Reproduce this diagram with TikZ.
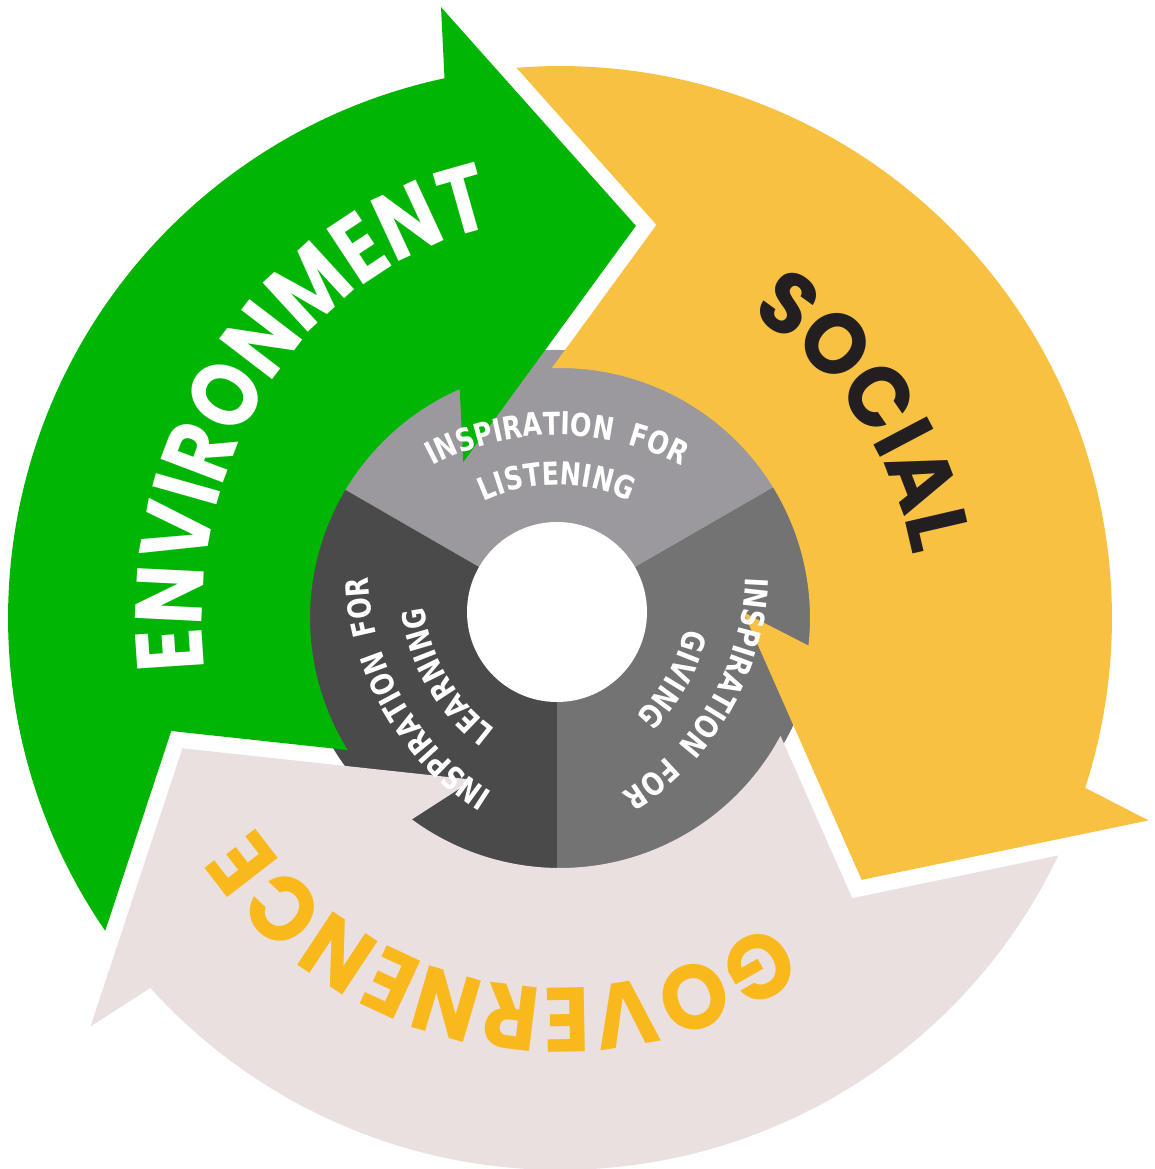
\documentclass[tikz,border=0pt]{standalone}
\usepackage{fontspec}
\usetikzlibrary{decorations.text}
\newfontfamily\envf{Poppins}[FakeStretch=0.835]
\newfontfamily\govf{Poppins}[FakeStretch=0.94]
\newfontfamily\socf{Poppins}[FakeStretch=0.95]
\newfontfamily\innerf{DejaVu Sans}[WordSpace=1.8,FakeStretch=0.8]
\definecolor{envgreen}{RGB}{0,181,4}
\definecolor{socyellow}{RGB}{249,193,66}
\definecolor{govpink}{RGB}{234,224,224}
\definecolor{govtext}{RGB}{249,184,28}
\definecolor{socdark}{RGB}{35,31,32}
\definecolor{ringlight}{RGB}{155,153,157}
\definecolor{ringmid}{RGB}{115,115,115}
\definecolor{ringdark}{RGB}{74,74,74}
\tikzset{
  esgarrow/.pic={\path[pic actions] (211.72:5.52) arc[start angle=211.72,end angle=99.28,radius=5.52]
      -- (-0.89,6.16) -- (0.95,3.88) -- (-0.89,1.605) -- (110.86:2.50)
      arc[start angle=110.86,end angle=209.09,radius=2.50] -- (193.41:4.0485) -- cycle;},
}
\newcommand\sectorlabel[2]{%
  \begin{scope}[rotate=#1]
    \begin{scope}[yshift=-0.89cm]
      \path[decorate,decoration={text along path,text align=center,text color=white,
        text={|\innerf\bfseries\fontsize{9}{10}\selectfont|INSPIRATION FOR}}]
        (130:2.66) arc[start angle=130,end angle=50,radius=2.66];
    \end{scope}
    \begin{scope}[yshift=-0.45cm]
      \path[decorate,decoration={text along path,text align=center,text color=white,
        text={|\innerf\bfseries\fontsize{9}{10}\selectfont|#2}}]
        (140:1.72) arc[start angle=140,end angle=40,radius=1.72];
    \end{scope}
  \end{scope}}
\begin{document}
\begin{tikzpicture}
\useasboundingbox (0,0) rectangle (11.55,-11.69);
\fill[white] (0,0) rectangle (11.55,-11.69);
% inner ring
\begin{scope}[shift={(5.57,-6.12)}]
  \fill[ringlight] (0,0) -- (30:2.62) arc[start angle=30,end angle=150,radius=2.62] -- cycle;
  \fill[ringdark] (0,0) -- (150:2.62) arc[start angle=150,end angle=270,radius=2.62] -- cycle;
  \fill[ringmid] (0,0) -- (270:2.62) arc[start angle=270,end angle=390,radius=2.62] -- cycle;
  \fill[white] (0,0) circle (0.90);
\end{scope}
% big arrows
\begin{scope}[shift={(5.60,-6.18)}]
  \pic[fill=envgreen, rotate=2.8] {esgarrow};
  \pic[fill=socyellow, rotate=-117.2] {esgarrow};
  \pic[fill=govpink, rotate=122.8] {esgarrow};
  \path[decorate,decoration={text along path,text align=center,text color=white,
     text={|\envf\bfseries\fontsize{27}{30}\selectfont|ENVIRONMENT}}]
     (212.75:3.58 and 3.98) arc[start angle=212.75,end angle=72.75,x radius=3.58,y radius=3.98];
  \path[decorate,decoration={text along path,text align=center,text color=socdark,
     text={|\socf\bfseries\fontsize{24.5}{30}\selectfont|SOCIAL}}]
     (100:3.58) arc[start angle=100,end angle=-32,radius=3.58];
  \path[decorate,decoration={text along path,text align=center,text color=govtext,
     text={|\govf\bfseries\fontsize{26}{30}\selectfont|GOVERNENCE}}]
     (330.5:3.70) arc[start angle=330.5,end angle=188.5,radius=3.70];
\end{scope}
% inner labels
\begin{scope}[shift={(5.57,-6.12)}]
  \sectorlabel{0}{LISTENING}
  \sectorlabel{-120}{GIVING}
  \sectorlabel{120}{LEARNING}
\end{scope}
\end{tikzpicture}
\end{document}
